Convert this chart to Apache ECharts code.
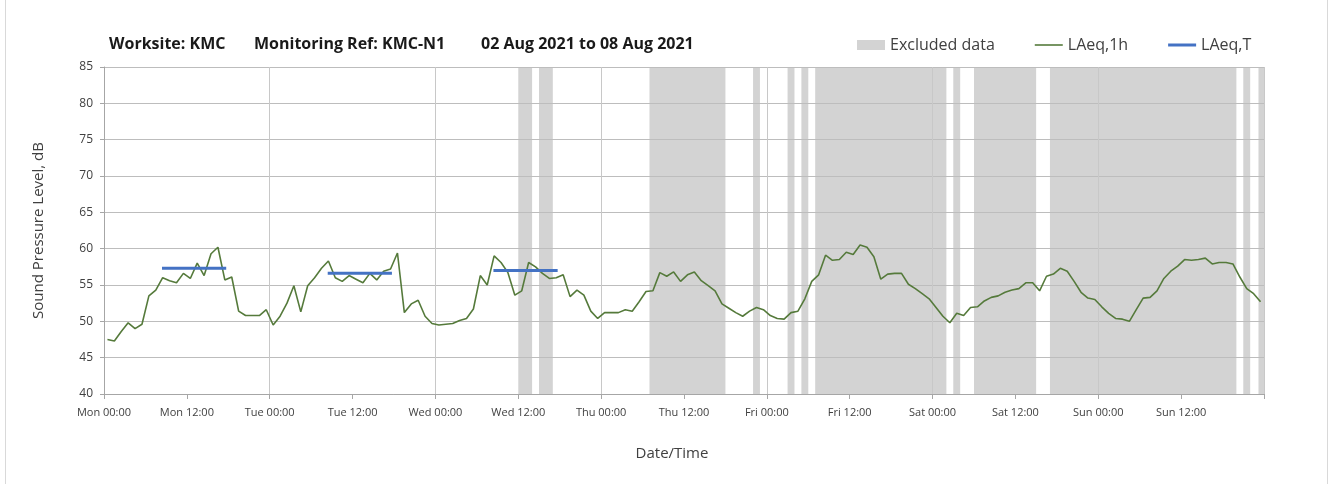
<!DOCTYPE html>
<html>
<head>
<meta charset="utf-8">
<script src="https://cdn.jsdelivr.net/npm/echarts@6/dist/echarts.min.js"></script>
<style>
html, body { margin: 0; padding: 0; background: #fff; }
#chart { width: 1336px; height: 484px; }
</style>
</head>
<body>
<div id="chart"></div>
<script>
// hourly LAeq,1h values, one array per day (point drawn at mid-hour)
var mon = [47.5, 47.3, 48.6, 49.8, 49.0, 49.6, 53.5, 54.3, 56.0, 55.6, 55.3, 56.6, 55.9, 58.0, 56.3, 59.3, 60.2, 55.7, 56.1, 51.4, 50.8, 50.8, 50.8, 51.6];
var tue = [49.5, 50.7, 52.5, 54.9, 51.3, 54.9, 56.0, 57.3, 58.3, 56.0, 55.5, 56.3, 55.8, 55.3, 56.6, 55.7, 56.9, 57.2, 59.4, 51.2, 52.4, 52.9, 50.7, 49.7];
var wed = [49.5, 49.6, 49.7, 50.1, 50.4, 51.7, 56.3, 55.0, 59.0, 58.1, 56.7, 53.6, 54.2, 58.1, 57.5, 56.6, 55.9, 56.0, 56.4, 53.4, 54.3, 53.6, 51.4, 50.4];
var thu = [51.2, 51.2, 51.2, 51.6, 51.4, 52.7, 54.1, 54.2, 56.7, 56.2, 56.8, 55.5, 56.4, 56.8, 55.6, 54.9, 54.2, 52.4, 51.8, 51.2, 50.7, 51.4, 51.9, 51.6];
var fri = [50.8, 50.4, 50.3, 51.2, 51.4, 53.1, 55.5, 56.4, 59.1, 58.4, 58.5, 59.5, 59.2, 60.5, 60.2, 58.9, 55.8, 56.5, 56.6, 56.6, 55.1, 54.5, 53.8, 53.1];
var sat = [51.9, 50.7, 49.8, 51.1, 50.8, 51.9, 52.0, 52.8, 53.3, 53.5, 54.0, 54.3, 54.5, 55.3, 55.3, 54.2, 56.2, 56.5, 57.3, 56.9, 55.5, 54.0, 53.2, 53.0];
var sun = [52.0, 51.1, 50.4, 50.3, 50.0, 51.6, 53.2, 53.3, 54.2, 55.9, 56.9, 57.6, 58.5, 58.4, 58.5, 58.7, 57.9, 58.1, 58.1, 57.9, 56.1, 54.5, 53.8, 52.7];

// LAeq,T daytime periods (hours from Mon 00:00)
var periodStart = [8.4, 32.4, 56.4];
var periodEnd = [17.7, 41.7, 65.7];
var periodValue = [57.3, 56.6, 57.0];

// excluded data periods (hours from Mon 00:00)
var excludedStart = [60, 63, 79, 94, 99, 101, 103, 123, 126, 137, 165, 167.2];
var excludedEnd = [62, 65, 90, 95, 100, 102, 122, 124, 135, 164, 166, 168];

var dayNames = ['Mon', 'Tue', 'Wed', 'Thu', 'Fri', 'Sat', 'Sun'];

var hourly = [].concat(mon, tue, wed, thu, fri, sat, sun);
var lineData = hourly.map(function (v, i) { return [i + 0.5, v]; });

var periodData = [];
for (var k = 0; k < periodValue.length; k++) {
    periodData.push([periodStart[k], periodValue[k]]);
    periodData.push([periodEnd[k], periodValue[k]]);
    periodData.push([periodEnd[k], '-']);
}

var excludedData = excludedStart.map(function (s, i) { return [s, excludedEnd[i]]; });

var font = 'Open Sans';
var textColor = '#404040';
var yMin = 40, yMax = 85;

var myChart = echarts.init(document.getElementById('chart'));
var option = {
    animation: false,
    backgroundColor: '#fff',
    textStyle: { fontFamily: font },
    title: [
        { text: 'Worksite: KMC', left: 104, top: 31, textStyle: { fontFamily: font, fontSize: 16, fontWeight: 'bold', color: '#1a1a1a' } },
        { text: 'Monitoring Ref: KMC-N1', left: 249, top: 31, textStyle: { fontFamily: font, fontSize: 16, fontWeight: 'bold', color: '#1a1a1a' } },
        { text: '02 Aug 2021 to 08 Aug 2021', left: 476, top: 31, textStyle: { fontFamily: font, fontSize: 16, fontWeight: 'bold', color: '#1a1a1a' } }
    ],
    legend: {
        left: 852,
        top: 32,
        itemWidth: 28,
        itemHeight: 10,
        itemGap: 40,
        textStyle: { fontFamily: font, fontSize: 16, color: textColor },
        data: [
            { name: 'Excluded data', icon: 'rect' },
            { name: 'LAeq,1h', icon: 'path://M0,0H28V1.6H0Z' },
            { name: 'LAeq,T', icon: 'path://M0,0H28V3H0Z' }
        ]
    },
    graphic: [{
        type: 'rect',
        shape: { x: 5.5, y: -2, width: 1322, height: 490 },
        style: { fill: 'none', stroke: '#d9d9d9', lineWidth: 1 },
        silent: true
    }],
    grid: { left: 104, right: 72, top: 67, bottom: 90 },
    xAxis: [{
        type: 'value',
        min: 0,
        max: 168,
        interval: 12,
        zlevel: 1,
        name: 'Date/Time',
        nameLocation: 'middle',
        nameGap: 52,
        nameTextStyle: { fontFamily: font, fontSize: 15, color: textColor, padding: [0, 24, 0, 0] },
        axisLine: { lineStyle: { color: '#a6a6a6' } },
        axisTick: { length: 5, lineStyle: { color: '#a6a6a6' } },
        splitLine: { show: false },
        axisLabel: {
            margin: 13,
            fontFamily: font,
            fontSize: 11,
            color: textColor,
            formatter: function (v) {
                var d = Math.floor(v / 24);
                if (d >= dayNames.length) return '';
                return dayNames[d] + ' ' + (v % 24 === 0 ? '00:00' : '12:00');
            }
        }
    }, {
        type: 'value',
        min: 0,
        max: 168,
        interval: 24,
        zlevel: 1,
        position: 'bottom',
        axisLine: { show: false },
        axisTick: { show: false },
        axisLabel: { show: false },
        splitLine: { show: true, lineStyle: { color: '#c8c8c8' } }
    }],
    yAxis: {
        type: 'value',
        min: yMin,
        max: yMax,
        interval: 5,
        zlevel: 1,
        name: 'Sound Pressure Level, dB',
        nameLocation: 'middle',
        nameGap: 58,
        nameTextStyle: { fontFamily: font, fontSize: 15, color: textColor },
        axisLine: { show: true, lineStyle: { color: '#a6a6a6' } },
        axisTick: { show: true, length: 4, lineStyle: { color: '#a6a6a6' } },
        axisLabel: { margin: 11, fontFamily: font, fontSize: 12, color: textColor },
        splitLine: { lineStyle: { color: '#bdbdbd' } }
    },
    series: [
        {
            name: 'Excluded data',
            type: 'custom',
            zlevel: 0,
            color: '#d3d3d3',
            encode: { x: [0, 1] },
            data: excludedData,
            renderItem: function (params, api) {
                var p0 = api.coord([api.value(0), yMax]);
                var p1 = api.coord([api.value(1), yMin]);
                return {
                    type: 'rect',
                    shape: { x: p0[0], y: p0[1], width: p1[0] - p0[0], height: p1[1] - p0[1] },
                    style: { fill: '#d3d3d3' }
                };
            }
        },
        {
            name: 'LAeq,1h',
            type: 'line',
            zlevel: 2,
            color: '#557a3b',
            showSymbol: false,
            symbol: 'none',
            lineStyle: { color: '#557a3b', width: 1.6 },
            data: lineData
        },
        {
            name: 'LAeq,T',
            type: 'line',
            zlevel: 2,
            z: 6,
            color: '#4472c4',
            showSymbol: false,
            symbol: 'none',
            connectNulls: false,
            lineStyle: { color: '#4472c4', width: 3 },
            data: periodData
        }
    ]
};
myChart.setOption(option);
</script>
</body>
</html>
